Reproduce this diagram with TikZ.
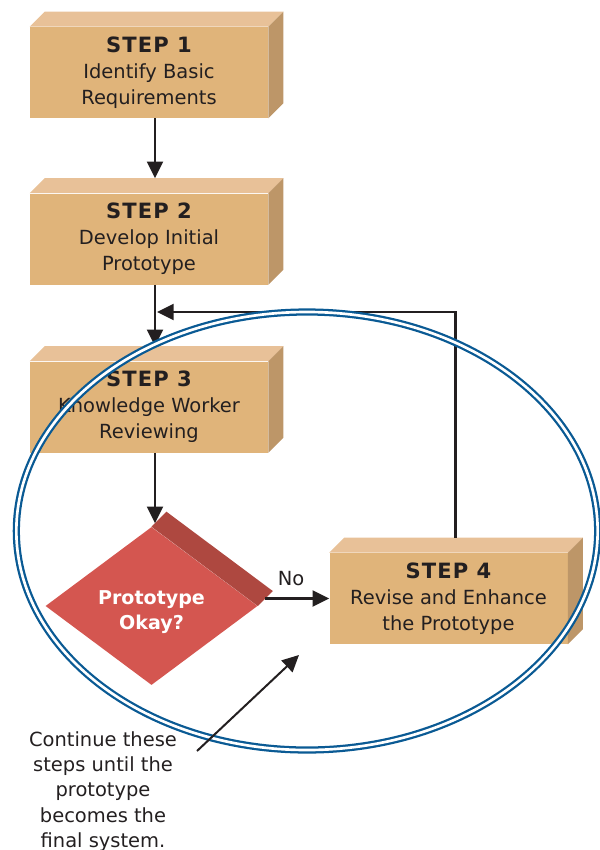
\documentclass[tikz,border=0pt]{standalone}
\usepackage{fontspec}
\setmainfont{DejaVu Sans}
\usetikzlibrary{arrows.meta,shapes.geometric}

\definecolor{facefront}{HTML}{E0B47A}
\definecolor{facetop}{HTML}{E8C198}
\definecolor{faceside}{HTML}{BD9668}
\definecolor{decred}{HTML}{D45650}
\definecolor{decshade}{HTML}{AE4840}
\definecolor{ringblue}{HTML}{0A5A94}
\definecolor{ink}{HTML}{231F20}

% bold, slightly tracked heading inside each step box
\newcommand\steplabel[1]{{\bfseries\fontsize{15.8pt}{19.5pt}\selectfont\addfontfeatures{LetterSpace=5}#1}}

\begin{document}
\begin{tikzpicture}[x=0.75pt,y=-0.75pt,
  stepbox/.style={rectangle, fill=facefront, minimum width=178.5pt, minimum height=68.25pt,
    inner sep=0pt, align=center, text=ink, font=\fontsize{14.6pt}{19.5pt}\selectfont},
  decision/.style={diamond, fill=decred, minimum width=159pt, minimum height=118.5pt, inner sep=0pt},
  decisiontext/.style={align=center, text=white, inner sep=0pt,
    font=\bfseries\fontsize{14.3pt}{18.8pt}\selectfont},
  flow/.style={draw=ink, line width=1.8pt, -{Triangle[length=12.5pt,width=12pt]}},
  ring/.style={ellipse, draw=ringblue, line width=1.7pt, double=white, double distance=2pt,
    inner sep=0pt, minimum width=436pt, minimum height=328.5pt},
  note/.style={align=center, text=ink, inner sep=0pt, font=\fontsize{14.6pt}{18.9pt}\selectfont},
]
\useasboundingbox (0,0) rectangle (600,850);

% step boxes (front faces)
\node[stepbox] (s1) at (149,72.5) {\steplabel{STEP 1}\\Identify Basic\\Requirements};
\node[stepbox] (s2) at (149,239) {\steplabel{STEP 2}\\Develop Initial\\Prototype};
\node[stepbox] (s3) at (149,407) {\steplabel{STEP 3}\\Knowledge Worker\\Reviewing};
\node[stepbox] (s4) at (448.5,598.5) {\steplabel{STEP 4}\\Revise and Enhance\\the Prototype};

% top and side faces give the boxes depth
\foreach \n in {s1,s2,s3,s4} {
  \fill[facetop] (\n.north west) -- ([shift={(15,-15)}]\n.north west)
    -- ([shift={(15,-15)}]\n.north east) -- (\n.north east) -- cycle;
  \fill[faceside] (\n.north east) -- ([shift={(15,-15)}]\n.north east)
    -- ([shift={(15,-15)}]\n.south east) -- (\n.south east) -- cycle;
}

% decision
\node[decision] (d) at (151.5,606) {};
\fill[decshade] (d.north) -- ([shift={(15,-15)}]d.north)
  -- ([shift={(15,-15)}]d.east) -- (d.east) -- cycle;
\node[decisiontext] (dt) at ([shift={(0,6)}]d.center) {Prototype\\Okay?};

\node[text=ink, inner sep=0pt, font=\fontsize{14.6pt}{16pt}\selectfont] (no) at (291,579) {No};

% connectors
\coordinate (dtop) at ([shift={(3.5,-3.5)}]d.north);
\coordinate (dexit) at ([shift={(7.5,-7.5)}]d.east);
\coordinate (loopstart) at ([shift={(7,-15)}]s4.north);
\coordinate (merge) at (157,312);

\draw[flow] ([shift={(6,0)}]s1.south) -- ([shift={(6,-15)}]s2.north);
\draw[flow] ([shift={(6,0)}]s2.south) -- ([shift={(6,-15)}]s3.north);
\draw[flow] ([shift={(6,0)}]s3.south) -- (dtop);
\draw[flow] (dexit) -- (s4.west);
\draw[flow, line width=1.6pt] (loopstart) |- (merge);

% iteration loop
\node[ring] (loop) at (307,531) {};

% annotation
\node[note] (cont) at (103,791.5) {Continue these\\steps until the\\prototype\\becomes the\\final system.};
\coordinate (ptail) at (197,751);
\coordinate (phead) at (299,655);
\draw[flow, line width=1.5pt] (ptail) -- (phead);

\end{tikzpicture}
\end{document}
